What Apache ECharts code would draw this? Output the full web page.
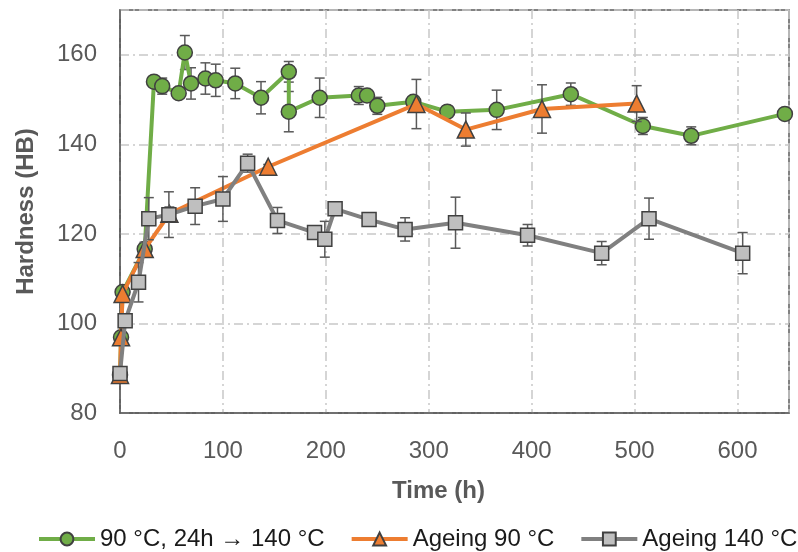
<!DOCTYPE html>
<html>
<head>
<meta charset="utf-8">
<script src="https://cdn.jsdelivr.net/npm/echarts@6/dist/echarts.min.js"></script>
<style>
  html, body { margin: 0; padding: 0; background: #ffffff; }
  #chart { width: 798px; height: 552px; }
</style>
</head>
<body>
<div id="chart"></div>
<script>
// Hardness (HB) versus ageing time (h), with standard-deviation error bars.

const seriesNames = ['90 °C, 24h \u2192 140 °C', 'Ageing 90 °C', 'Ageing 140 °C'];

// 90 °C for 24 h, then 140 °C
const greenTime = [0, 1, 2.5, 24, 33, 41, 57, 63, 69, 83, 93, 112, 137, 164, 164, 194, 232, 240, 250, 285, 318, 366, 438, 508, 555, 646];
const greenHB   = [88.5, 96.9, 107.0, 116.6, 154.0, 153.0, 151.4, 160.5, 153.6, 154.7, 154.3, 153.6, 150.4, 156.2, 147.3, 150.4, 150.9, 150.9, 148.6, 149.5, 147.3, 147.7, 151.2, 144.1, 141.9, 146.8];
const greenErr  = [0.5, 1.0, 1.0, 1.5, 1.0, 1.8, 1.0, 3.8, 3.5, 3.5, 3.6, 3.4, 3.6, 2.3, 4.5, 4.4, 2.0, 0.6, 1.9, 1.0, 1.3, 4.4, 2.5, 1.9, 2.0, 1.0];

// Ageing at 90 °C
const orangeTime = [0, 1, 2.5, 24, 48, 144, 288, 336, 410, 502];
const orangeHB   = [88.5, 96.9, 106.6, 116.6, 124.5, 135.0, 149.0, 143.3, 147.9, 149.1];
const orangeErr  = [0.5, 1.0, 1.0, 1.5, 1.5, 0.5, 5.5, 3.7, 5.4, 4.0];

// Ageing at 140 °C
const grayTime = [0, 5, 18, 28, 47.5, 73, 100, 124, 153, 189, 199, 209, 242, 277, 326, 396, 468, 514, 605];
const grayHB   = [88.8, 100.6, 109.2, 123.4, 124.3, 126.2, 127.8, 135.8, 123.0, 120.3, 118.8, 125.6, 123.2, 121.0, 122.5, 119.7, 115.7, 123.4, 115.7];
const grayErr  = [0.5, 1.0, 4.4, 4.7, 5.1, 4.1, 5.0, 2.0, 2.9, 1.0, 4.0, 1.0, 1.0, 2.6, 5.7, 2.4, 2.6, 4.6, 4.6];

// Axis ticks
const xTicks = { min: 0, max: 650, step: 100 };
const yTicks = { min: 80, max: 170, step: 20 };

const FONT = '"Liberation Sans", Arial, sans-serif';
const AXIS_GREY = '#595959';
const GRID_LINE = { color: '#c8c8c8', width: 1.5, type: [9, 4, 2, 4] };

function pairs(t, v) { return t.map((x, i) => [x, v[i]]); }
function triples(t, v, e) { return t.map((x, i) => [x, v[i], e[i]]); }

function errorBars(name, t, v, e, z) {
  return {
    type: 'custom',
    name: name + ' error',
    z: z,
    silent: true,
    clip: true,
    data: triples(t, v, e),
    encode: { x: 0, y: 1 },
    renderItem: function (params, api) {
      const x = api.value(0), y = api.value(1), err = api.value(2);
      const hi = api.coord([x, y + err]);
      const lo = api.coord([x, y - err]);
      const cap = 5;
      const style = { stroke: '#595959', lineWidth: 1.5 };
      return {
        type: 'group',
        children: [
          { type: 'line', shape: { x1: hi[0], y1: hi[1], x2: lo[0], y2: lo[1] }, style: style },
          { type: 'line', shape: { x1: hi[0] - cap, y1: hi[1], x2: hi[0] + cap, y2: hi[1] }, style: style },
          { type: 'line', shape: { x1: lo[0] - cap, y1: lo[1], x2: lo[0] + cap, y2: lo[1] }, style: style }
        ]
      };
    }
  };
}

function lineSeries(name, t, v, lineColor, fill, symbol, size, z) {
  return {
    type: 'line',
    name: name,
    z: z,
    data: pairs(t, v),
    symbol: symbol,
    symbolSize: size,
    showSymbol: true,
    showAllSymbol: true,
    lineStyle: { color: lineColor, width: 4 },
    itemStyle: { color: fill, borderColor: '#404040', borderWidth: 1.5 },
    emphasis: { disabled: true }
  };
}

const chart = echarts.init(document.getElementById('chart'), null, { renderer: 'canvas' });

chart.setOption({
  animation: false,
  backgroundColor: '#ffffff',
  textStyle: { fontFamily: FONT },
  grid: {
    left: 120, right: 9, top: 10, bottom: 139,
    show: true, borderColor: AXIS_GREY, borderWidth: 1.5, backgroundColor: 'transparent'
  },
  xAxis: {
    type: 'value',
    min: xTicks.min, max: xTicks.max, interval: xTicks.step,
    axisLine: { show: true, lineStyle: { color: AXIS_GREY, width: 1.5 } },
    axisTick: { show: false },
    axisLabel: { color: AXIS_GREY, fontSize: 24, fontFamily: FONT, margin: 26, showMaxLabel: false },
    splitLine: { show: true, lineStyle: GRID_LINE }
  },
  yAxis: {
    type: 'value',
    min: yTicks.min, max: yTicks.max, interval: yTicks.step,
    name: 'Hardness (HB)',
    nameLocation: 'middle',
    nameGap: 82,
    nameTextStyle: { color: AXIS_GREY, fontSize: 24, fontWeight: 'bold', fontFamily: FONT },
    axisLine: { show: true, lineStyle: { color: AXIS_GREY, width: 1.5 } },
    axisTick: { show: false },
    axisLabel: { color: AXIS_GREY, fontSize: 24, fontFamily: FONT, margin: 23, showMaxLabel: false },
    splitLine: { show: true, lineStyle: GRID_LINE }
  },
  graphic: [{
    type: 'text',
    left: 392, top: 479,
    style: { text: 'Time (h)', fill: AXIS_GREY, font: 'bold 24px ' + FONT }
  }],
  legend: {
    data: seriesNames,
    left: 32, top: 522, width: 790,
    itemWidth: 56, itemHeight: 16, itemGap: 25,
    lineStyle: { width: 4 },
    textStyle: { color: '#1a1a1a', fontSize: 24, fontFamily: FONT },
    selectedMode: false
  },
  series: [
    errorBars(seriesNames[0], greenTime, greenHB, greenErr, 2),
    lineSeries(seriesNames[0], greenTime, greenHB, '#70ad47', '#70ad47', 'circle', 15, 3),
    errorBars(seriesNames[1], orangeTime, orangeHB, orangeErr, 4),
    lineSeries(seriesNames[1], orangeTime, orangeHB, '#ed7d31', '#ed7d31', 'triangle', 17, 5),
    errorBars(seriesNames[2], grayTime, grayHB, grayErr, 6),
    lineSeries(seriesNames[2], grayTime, grayHB, '#808080', '#bfbfbf', 'rect', 14, 7)
  ]
});
</script>
</body>
</html>
